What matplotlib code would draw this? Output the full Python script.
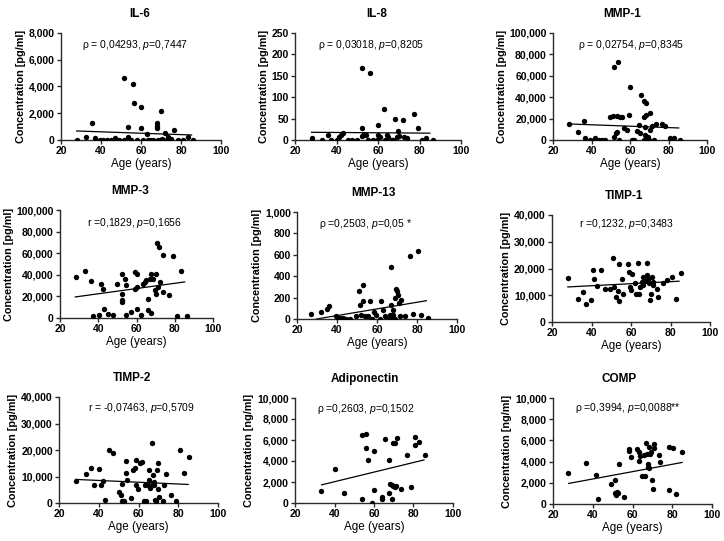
import matplotlib
matplotlib.use("Agg")
import matplotlib.pyplot as plt
from matplotlib.ticker import FuncFormatter, MultipleLocator
import numpy as np

plt.rcParams['font.family'] = ['Liberation Sans', 'DejaVu Sans']
plt.rcParams['mathtext.fontset'] = 'custom'
plt.rcParams['mathtext.rm'] = 'Liberation Sans'
plt.rcParams['mathtext.it'] = 'Liberation Sans:italic'

# ---------------- data ----------------
titles = ["IL-6", "IL-8", "MMP-1", "MMP-3", "MMP-13", "TIMP-1", "TIMP-2", "Adiponectin", "COMP"]
units = ["pg/ml"] * 7 + ["ng/ml"] * 2
stats_text = [
    r"ρ = 0,04293, $\it{p}$=0,7447",
    r"ρ = 0,03018, $\it{p}$=0,8205",
    r"ρ = 0,02754, $\it{p}$=0,8345",
    r"r =0,1829, $\it{p}$=0,1656",
    r"ρ =0,2503, $\it{p}$=0,05 *",
    r"r =0,1232, $\it{p}$=0,3483",
    r"r = -0,07463, $\it{p}$=0,5709",
    r"ρ =0,2603, $\it{p}$=0,1502",
    r"ρ =0,3994, $\it{p}$=0,0088**",
]
y_max = [8000, 250, 100000, 100000, 1000, 40000, 40000, 10000, 10000]
y_step = [2000, 50, 20000, 20000, 200, 10000, 10000, 2000, 2000]

il6_age = [27.8, 32.5, 35.3, 37, 39.5, 41, 43, 45, 47, 49, 51.5, 51.5, 53.7, 53.7, 55, 55.8, 56.7, 58,
           59.8, 59.8, 61, 62.8, 63.5, 64.5, 66, 67.8, 67.8, 68, 68.5, 69.5, 69.8, 70.5, 71, 72, 73,
           73.7, 75, 76.7, 78.7, 81, 83.3, 85.8]
il6_conc = [0, 200, 1250, 175, 0, 0, 0, 0, 125, 0, 0, 4600, 200, 1000, 0, 4150, 2750, 0,
            2450, 925, 0, 450, 0, 0, 0, 1250, 875, 1050, 0, 0, 2175, 100, 0, 550, 0,
            250, 100, 750, 0, 0, 250, 0]

il8_age = [28, 33.2, 36, 37.5, 40, 41.2, 42.2, 43.3, 45.4, 47.6, 50, 52.1, 52.1, 52.1, 53.2, 54,
           56.2, 55.3, 57.7, 59.3, 59.8, 60, 61, 62.9, 63.4, 64.2, 65, 66.6, 67.4, 68.2, 69, 69.8,
           70.3, 72.2, 72.6, 73.8, 77.3, 79.1, 81, 83.1, 86.3]
il8_conc = [5, 0, 12, 0, 0, 8, 12, 17, 0, 0, 0, 27, 168, 10, 15, 12,
            156, 0, 0, 0, 34, 12, 8, 73, 0, 12, 8, 0, 0, 49, 8, 20,
            10, 47, 8, 4, 60, 27, 0, 4, 0]

mmp1_age = [28.1, 32.8, 35.9, 36.8, 39.4, 41.1, 42, 43.7, 45.4, 47.2, 49.8, 51.2, 53, 54.6, 55.8,
            51.9, 52.5, 53.4, 51.9, 53.6, 54.1, 56.7, 58.4, 59.3, 59.8, 61, 62.2, 63.6, 64.5, 65,
            65.9, 67.1, 67.6, 68, 67.4, 68.3, 67.4, 68.2, 69.3, 70, 70.6, 71.4, 70.6, 72.3, 73.7,
            76.6, 78.4, 80.6, 82.7, 85.8]
mmp1_conc = [14700, 7200, 17800, 2200, 0, 0, 1500, 0, 0, 0, 21900, 22500, 22200, 21800, 21200,
             3100, 6300, 7800, 68100, 72500, 0, 11000, 9400, 23100, 49400, 0, 0, 8400, 14000, 6500,
             42500, 0, 5000, 12500, 36250, 34400, 21900, 23500, 3000, 0, 25600, 13100, 9500, 0, 15000,
             15000, 13100, 2200, 2200, 0]

mmp3_age = [28.3, 33, 36, 37, 40.2, 41.2, 42.3, 43.1, 45.2, 47.5, 49.9, 52.2, 52.2, 52.2, 52.2,
            53.9, 54.4, 54.4, 57, 59, 60, 59, 60, 60.3, 62.6, 63.5, 64.3, 65.2, 66, 67, 66, 67.8,
            67.8, 68.6, 69.6, 70.4, 70.8, 71.8, 70.4, 72.2, 71.3, 73.9, 73.9, 77, 79.1, 81.2,
            83.1, 86.4]
mmp3_conc = [38100, 43700, 34100, 1900, 2500, 31900, 27200, 8000, 4000, 2500, 31900, 41200, 22600,
             16400, 15000, 36500, 30300, 2500, 5600, 42700, 41200, 27200, 28800, 8700, 2500, 31900,
             33400, 35000, 18000, 36500, 7100, 41200, 5000, 36500, 25700, 41200, 69000, 65900, 22600,
             33400, 29000, 58200, 24100, 21000, 57600, 1900, 43300, 1900]

mmp13_age = [27.2, 32.2, 35, 36, 39.7, 40.5, 41.5, 43, 44.6, 46.3, 49.7, 51, 51.3, 52.2, 53, 53,
             53.8, 55.5, 56.3, 57.7, 58.5, 59.3, 61.3, 62.2, 63, 63.8, 65.5, 66.3, 67.2, 67.2, 68,
             68.8, 68, 69.3, 70, 70.5, 71, 72.2, 71.3, 73.8, 76.3, 78, 80.5, 82.2, 85.5, 67.2, 68.8]
mmp13_conc = [47, 65, 93, 118, 25, 0, 10, 10, 0, 0, 25, 265, 134, 40, 315, 165,
              25, 25, 165, 0, 65, 40, 0, 165, 87, 25, 0, 40, 483, 134, 87,
              196, 40, 283, 258, 227, 150, 180, 25, 25, 592, 47, 632, 40, 10, 0, 0]

timp1_age = [27.9, 33, 35.7, 37, 39.7, 40.7, 41.5, 42.7, 44.7, 46.6, 49.5, 51.1, 51.6, 52.5, 53.2,
             53.7, 53.7, 55.4, 56.2, 58.7, 59, 59.6, 60, 60.4, 62.1, 62.6, 63.3, 63.8, 64.6, 65.5,
             66, 66.3, 67.1, 68, 68.3, 68.8, 69.3, 69.7, 70, 70.5, 71, 71.3, 73, 73.5, 76, 78,
             80.6, 82.6, 85.2]
timp1_conc = [16500, 8500, 11250, 6600, 8400, 19400, 16000, 13400, 19400, 12500, 12250, 24000, 13100,
              9400, 11500, 7750, 21600, 16250, 10600, 21500, 18750, 13100, 11900, 18100, 14400, 10600,
              21900, 10600, 12900, 15000, 16900, 13750, 15250, 17500, 21900, 16250, 14400, 8100, 10600,
              16900, 15000, 13750, 12500, 9400, 14750, 15600, 16900, 8500, 18500]

timp2_age = [28.4, 33.4, 36.3, 37.6, 40.1, 41.3, 42.1, 43.3, 45.2, 47.2, 50.2, 51.4, 51.9, 51.9,
             52.6, 53.9, 53.9, 54.4, 56.1, 57, 58, 58.9, 58.9, 59.8, 61, 62, 62.8, 63.6, 63.3,
             64.6, 65.1, 65.5, 66, 66.6, 66.8, 67.2, 67.7, 68, 68.3, 68.8, 69.3, 69.7, 70.5, 70,
             72.3, 72.7, 74, 76.5, 78.7, 80.7, 82.8, 85.4]
timp2_conc = [8300, 10800, 13200, 6900, 12700, 6900, 8300, 1300, 20100, 18900, 4200, 2900, 7300, 750,
              750, 15700, 11300, 8800, 1900, 12300, 13200, 16400, 6900, 5400, 15100, 15500, 750, 750,
              6700, 6900, 12300, 8600, 5700, 6700, 22600, 10700, 6700, 7900, 1300, 750, 12300, 5400,
              2300, 15100, 600, 6700, 11100, 2900, 600, 20100, 11400, 17400]

adipo_age = [33.1, 40.2, 44.9, 54, 54, 55.9, 55.9, 57, 59, 59.9, 60.1, 64, 64.3, 65.8, 67.5, 67.6,
             68, 69, 69.3, 69.7, 70.5, 69.7, 70.7, 71.3, 71.7, 73.9, 76.9, 78.9, 80.6, 80.9, 82.8,
             85.7]
adipo_conc = [1170, 3250, 950, 410, 6470, 6560, 5200, 4100, 0, 4950, 1260, 540, 410, 6090, 4100, 950,
              1830, 1740, 410, 5680, 5740, 1580, 1480, 1650, 6150, 1360, 4570, 1510, 6250, 5520, 5770,
              4570]

comp_age = [27.5, 36.8, 41.6, 42.5, 49.4, 51.4, 51.4, 52.2, 51.9, 52.8, 53.4, 55.6, 58.4, 58.4,
            59.3, 62.3, 63.1, 63.1, 64, 64.8, 65.6, 66.1, 66.8, 67.3, 67.6, 68.2, 67.9, 68.5, 68.7,
            69.3, 69.8, 70.2, 71, 70.7, 73.2, 73.6, 78.2, 78.2, 80.4, 82.1, 84.9]
comp_conc = [2880, 3890, 2730, 470, 1880, 2260, 1000, 1100, 850, 1000, 3760, 690, 5170, 5020,
             4450, 5230, 4920, 4040, 4510, 2630, 4610, 2660, 5770, 4670, 3730, 3350, 3500, 5420, 4760,
             4860, 2260, 1410, 5670, 5290, 4610, 3920, 5390, 1320, 5330, 940, 4920]

ages = [il6_age, il8_age, mmp1_age, mmp3_age, mmp13_age, timp1_age, timp2_age, adipo_age, comp_age]
concs = [il6_conc, il8_conc, mmp1_conc, mmp3_conc, mmp13_conc, timp1_conc, timp2_conc, adipo_conc, comp_conc]

# trend lines: (x start, x end, y start, y end)
trend_x0 = [27.8, 28, 28, 28, 29.7, 28, 28.4, 33.5, 27.9]
trend_x1 = [85.3, 85, 85.3, 85.2, 84.7, 84.3, 85, 85.3, 85]
trend_y0 = [675, 18, 15000, 19500, 0, 13100, 8900, 1730, 1940]
trend_y1 = [375, 16, 11250, 33400, 171, 15250, 7000, 4100, 3920]

# ---------------- layout ----------------
W, H = 724, 541
boxes = [  # pixel boxes: x0, x1, ytop, ybottom
    (61, 221, 33, 140), (295, 461, 33, 140), (553, 707, 33, 140),
    (60, 213, 210, 318), (297, 457, 212, 319), (552, 710, 215, 322),
    (59, 218, 397, 503), (295, 453, 398, 503), (553, 712, 398, 504),
]
txt_pos = [(0.46, 0.89), (0.46, 0.89), (0.51, 0.89), (0.49, 0.88), (0.43, 0.89),
           (0.47, 0.92), (0.52, 0.90), (0.45, 0.895), (0.47, 0.905)]
title_x = [0.49, 0.49, 0.45, 0.46, 0.475, 0.456, 0.46, 0.44, 0.415]

fig = plt.figure(figsize=(W / 100, H / 100), dpi=100)
fmt = FuncFormatter(lambda v, p: f"{v:,.0f}")
axis_col = "#2a2a2a"

for i in range(9):
    x0, x1, yt, yb = boxes[i]
    ax = fig.add_axes([x0 / W, 1 - yb / H, (x1 - x0) / W, (yb - yt) / H])
    ax.scatter(ages[i], concs[i], s=15, color="black", zorder=3, linewidths=0)
    ax.plot([trend_x0[i], trend_x1[i]], [trend_y0[i], trend_y1[i]], color="black", lw=0.9, zorder=2)
    ax.set_xlim(20, 100)
    ax.set_ylim(0, y_max[i])
    ax.xaxis.set_major_locator(MultipleLocator(20))
    ax.yaxis.set_major_locator(MultipleLocator(y_step[i]))
    ax.yaxis.set_major_formatter(fmt)
    for s in ["top", "right"]:
        ax.spines[s].set_visible(False)
    for s in ["left", "bottom"]:
        ax.spines[s].set_color(axis_col)
        ax.spines[s].set_linewidth(1.0)
    ax.tick_params(axis="both", direction="out", length=3, width=1.0, color=axis_col,
                   labelsize=7.5, pad=1.5)
    for lab in ax.get_xticklabels() + ax.get_yticklabels():
        lab.set_fontweight("bold")
    ax.set_xlabel("Age (years)", fontsize=8.4, labelpad=1.5)
    ax.set_ylabel(f"Concentration [{units[i]}]", fontsize=7.8, fontweight="bold", labelpad=2)
    ax.text(title_x[i], 1.18, titles[i], transform=ax.transAxes, ha="center", va="center",
            fontsize=8.5, fontweight="bold")
    ax.text(txt_pos[i][0], txt_pos[i][1], stats_text[i], transform=ax.transAxes,
            ha="center", va="center", fontsize=7.5)

fig.savefig("out.png", dpi=100)
